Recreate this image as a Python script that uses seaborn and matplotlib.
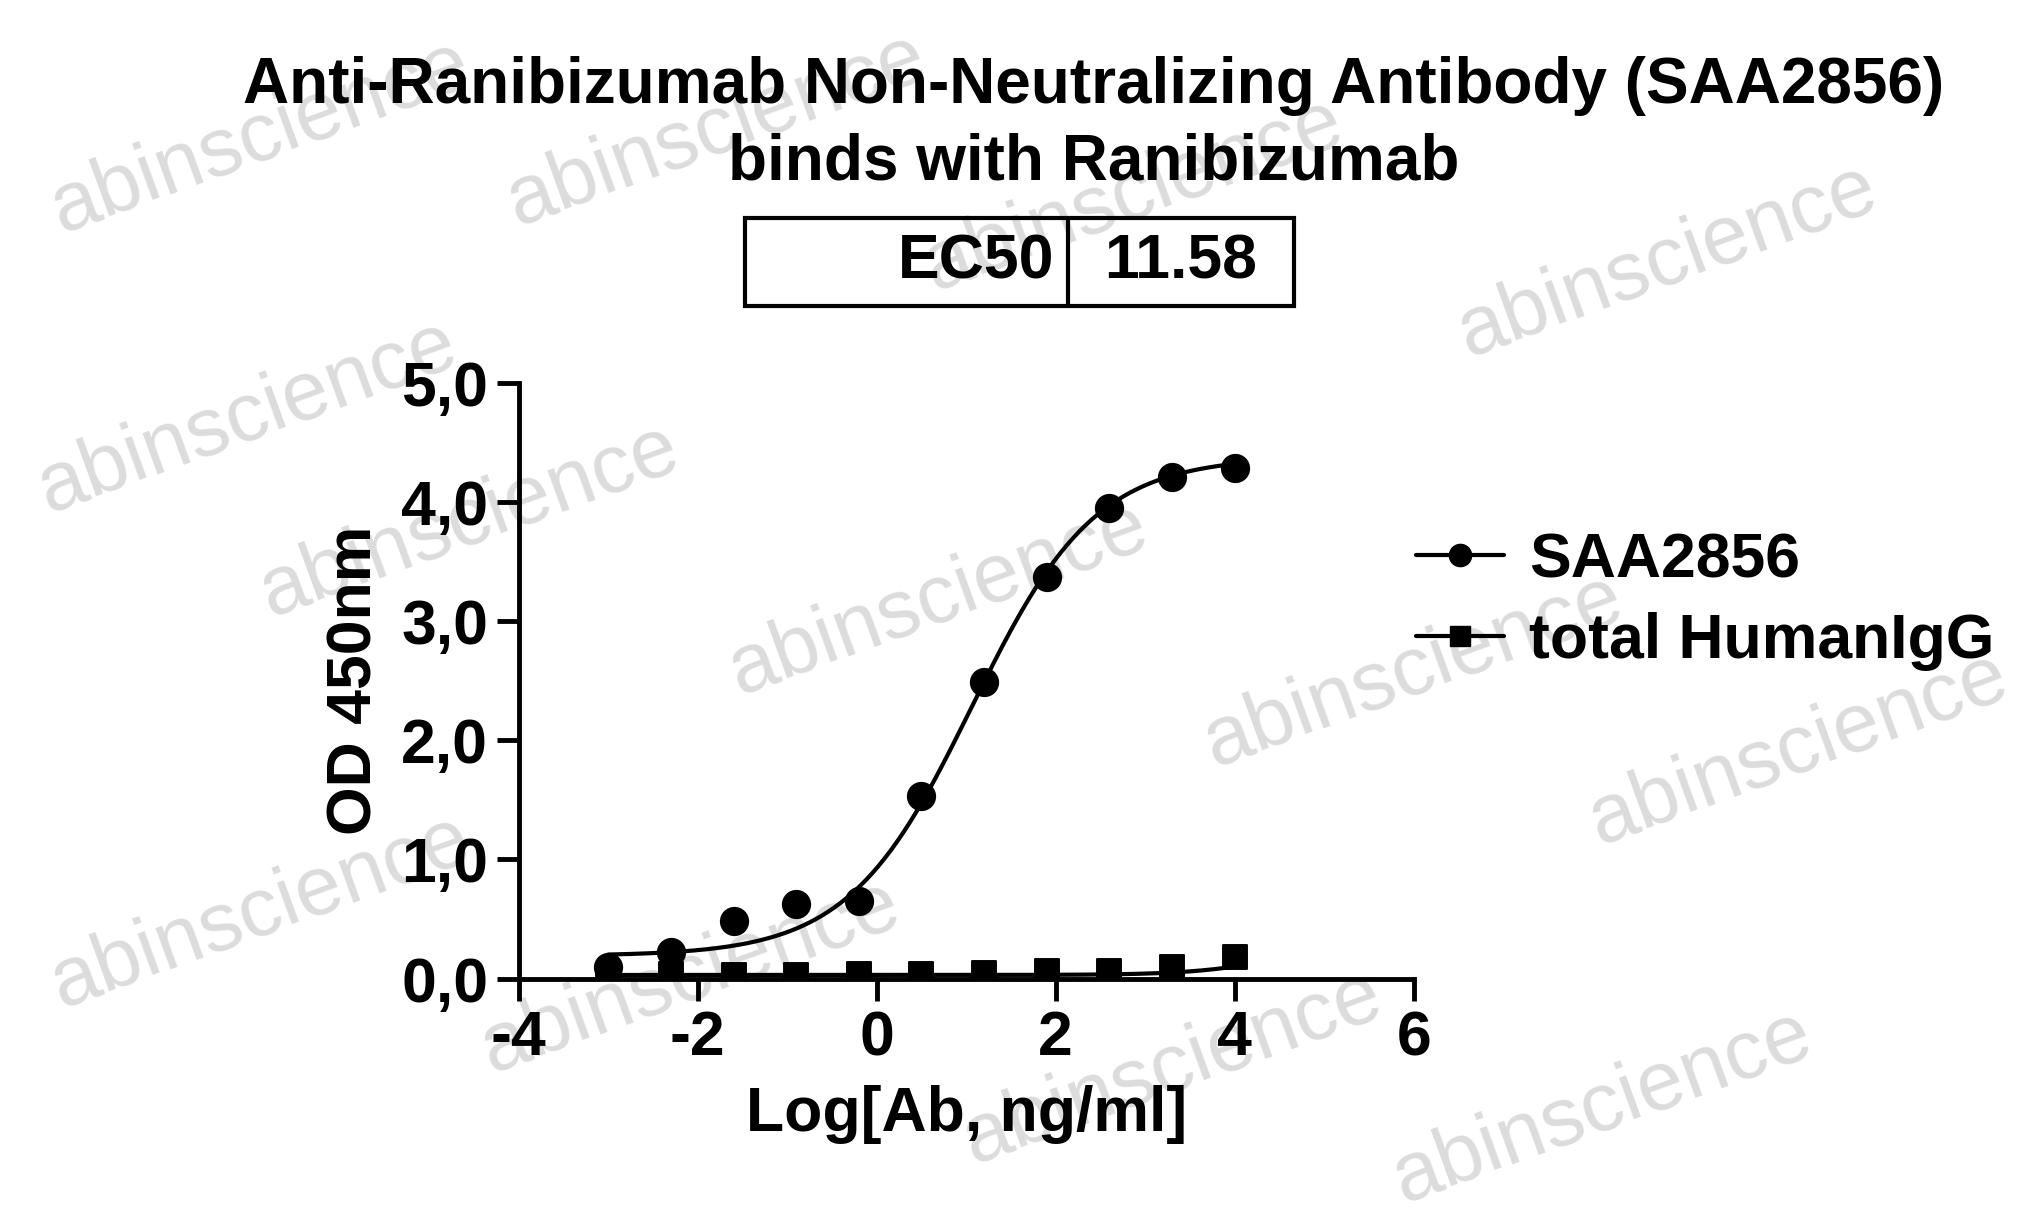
import numpy as np
import matplotlib
matplotlib.use("Agg")
import matplotlib.pyplot as plt
import seaborn as sns
import pandas as pd

log_conc = [-3.0, -2.3, -1.6, -0.9, -0.2, 0.5, 1.2, 1.9, 2.6, 3.3, 4.0]
saa2856 = [0.10, 0.22, 0.48, 0.63, 0.65, 1.53, 2.49, 3.37, 3.95, 4.21, 4.29]
human_igg = [0.03, 0.04, 0.03, 0.03, 0.04, 0.04, 0.05, 0.06, 0.06, 0.10, 0.18]
# fitted 4PL parameters (bottom, top, logEC50, hill)
fit_saa = (0.19, 4.38, 1.064, 0.63)
fit_igg = (0.03, 0.30, 4.5, 0.9)
ec50_text = "11.58"
yticks = [0, 1, 2, 3, 4, 5]
ytick_labels = ["0,0", "1,0", "2,0", "3,0", "4,0", "5,0"]
xticks = [-4, -2, 0, 2, 4, 6]

sns.set_theme(style="ticks")
plt.rcParams['font.family'] = ['Liberation Sans', 'DejaVu Sans']
plt.rcParams['font.weight'] = 'bold'
for k in ['text.color', 'axes.labelcolor', 'xtick.color', 'ytick.color']:
    plt.rcParams[k] = 'black'

W, H = 2043, 1218
fig = plt.figure(figsize=(W/100, H/100), dpi=100)

wm = [(200, 105), (550, 100), (1280, 200), (190, 320), (360, 400), (720, 460), (1085, 515),
      (1380, 575), (200, 700), (530, 750), (900, 820), (1230, 850), (870, 150)]
for (px, py) in wm:
    fig.text(px*1.303/W, 1-py*1.303/H, "abinscience", fontsize=60, fontweight='normal',
             color='#dcdcdc', rotation=20, ha='center', va='center', zorder=0)

ax = fig.add_axes([0.2539, 0.1966, 0.692-0.2539, 0.6855-0.1966])
ax.set_zorder(2)
ax.patch.set_alpha(0)

df = pd.DataFrame({"x": log_conc * 2, "y": saa2856 + human_igg,
                   "s": ["SAA2856"]*len(log_conc) + ["total HumanIgG"]*len(log_conc)})

xx = np.linspace(-3, 4, 300)
def fpl(x, p):
    b, t, c, h = p
    return b + (t - b) / (1 + 10 ** ((c - x) * h))

sns.lineplot(x=xx, y=fpl(xx, fit_saa), color='black', lw=3, ax=ax, zorder=3)
sns.lineplot(x=xx, y=fpl(xx, fit_igg), color='black', lw=3, ax=ax, zorder=3)
sns.scatterplot(data=df[df.s == "SAA2856"], x="x", y="y", marker='o', s=380, color='black',
                edgecolor='black', ax=ax, zorder=4, legend=False)
sns.scatterplot(data=df[df.s == "total HumanIgG"], x="x", y="y", marker='s', s=300, color='black',
                edgecolor='black', ax=ax, zorder=4, legend=False)

ax.set_xlim(-4, 6)
ax.set_ylim(0, 5)
ax.set_xticks(xticks)
ax.set_xticklabels([str(t) for t in xticks])
ax.set_yticks(yticks)
ax.set_yticklabels(ytick_labels)
for s in ['top', 'right']:
    ax.spines[s].set_visible(False)
for s in ['left', 'bottom']:
    ax.spines[s].set_linewidth(3.5)
    ax.spines[s].set_color('black')
ax.tick_params(width=3.5, length=16, labelsize=45, direction='out', color='black', pad=6)
for lab in ax.get_xticklabels() + ax.get_yticklabels():
    lab.set_fontweight('bold')
ax.set_xlabel("Log[Ab, ng/ml]", fontsize=45, fontweight='bold', labelpad=12)
ax.set_ylabel("OD 450nm", fontsize=45, fontweight='bold', labelpad=12)

from matplotlib.lines import Line2D
handles = [Line2D([], [], color='black', lw=3, marker='o', markersize=16),
           Line2D([], [], color='black', lw=3, marker='s', markersize=15)]
fig.legend(handles, ["SAA2856", "total HumanIgG"], loc='upper left',
           bbox_to_anchor=(1385/W, 1-500/H), frameon=False, borderpad=0,
           handlelength=1.4, handletextpad=0.4, labelspacing=0.35, prop={'weight': 'bold', 'size': 45})

fig.text(1094/W, 1-86/H, "Anti-Ranibizumab Non-Neutralizing Antibody (SAA2856)",
         ha='center', va='center', fontsize=46, fontweight='bold')
fig.text(1094/W, 1-163/H, "binds with Ranibizumab", ha='center', va='center',
         fontsize=46, fontweight='bold')

from matplotlib.patches import Rectangle
x0, x1, xd, y0, y1 = 745, 1294, 1068, 218, 306
fig.patches.append(Rectangle((x0/W, 1-y1/H), (x1-x0)/W, (y1-y0)/H, transform=fig.transFigure,
                             fill=False, lw=3, ec='black'))
fig.lines.append(Line2D([xd/W, xd/W], [1-y1/H, 1-y0/H], transform=fig.transFigure, lw=3, color='black'))
fig.text((xd-14)/W, 1-262/H, "EC50", ha='right', va='center', fontsize=45, fontweight='bold')
fig.text((xd+x1)/2/W, 1-262/H, ec50_text, ha='center', va='center', fontsize=45, fontweight='bold')

fig.savefig("out.png", dpi=100)
